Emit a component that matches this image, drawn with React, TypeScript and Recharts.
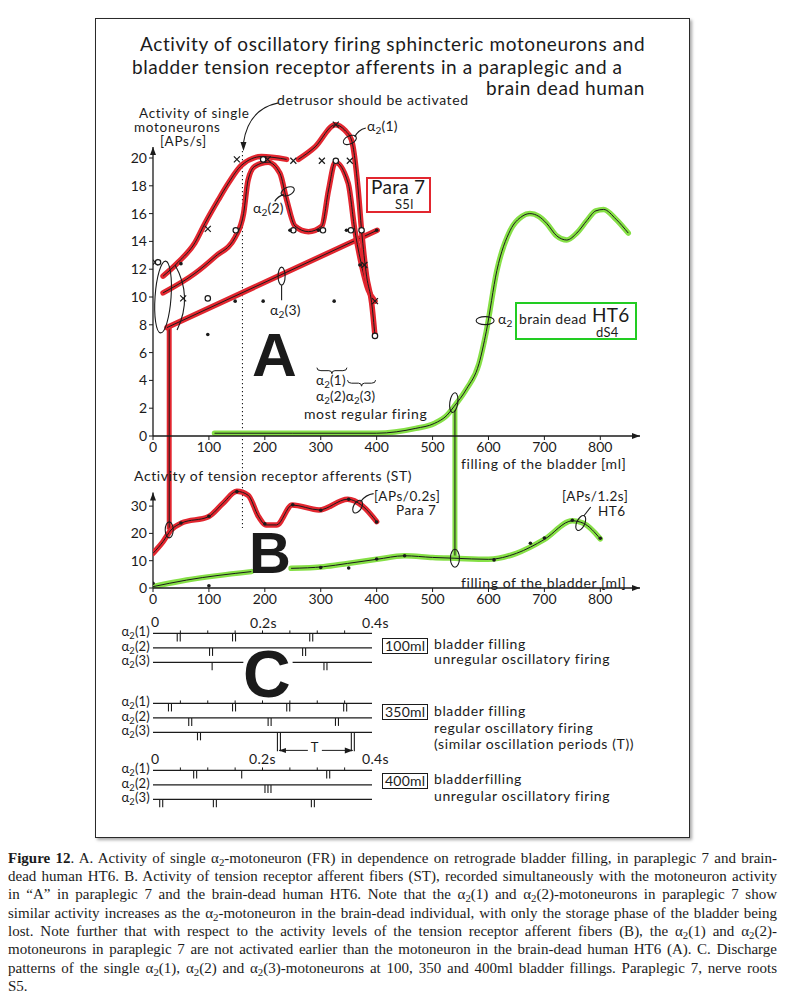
import React from "react";
import {
  ComposedChart,
  ScatterChart,
  Line,
  Scatter,
  XAxis,
  YAxis,
  ReferenceLine,
  ReferenceDot,
} from "recharts";

const FONT = "Lato, 'DejaVu Sans', sans-serif";
const SERIF = "'Liberation Serif', 'Times New Roman', serif";
const BOLD = "'Liberation Sans', Arial, sans-serif";
const INK = "#1b1b1b";
const RED = "#e2262f";
const GREEN = "#86e046";

// filling of the bladder [ml], shared by A and B
const fillTicks = [0, 100, 200, 300, 400, 500, 600, 700, 800];
const FILL_MAX = 871;

// A: activity of single motoneurons [APs/s]
const aTicks = [0, 2, 4, 6, 8, 10, 12, 14, 16, 18, 20];
const alpha1 = [
  { ml: 18, v: 11.5 }, { ml: 45, v: 12.5 }, { ml: 75, v: 13.9 }, { ml: 93, v: 15.3 },
  { ml: 117, v: 17.0 }, { ml: 135, v: 18.2 }, { ml: 159, v: 19.5 }, { ml: 194, v: 20.1 },
  { ml: 239, v: 19.9 }, { ml: 249, v: null },
  { ml: 260, v: 19.9 }, { ml: 290, v: 20.8 }, { ml: 326, v: 22.4 }, { ml: 343, v: 22.0 },
  { ml: 355, v: 21.3 }, { ml: 367, v: 17.7 }, { ml: 373, v: 14.8 }, { ml: 382, v: 11.5 },
  { ml: 391, v: 9.6 }, { ml: 397, v: 7.2 },
];
const alpha2 = [
  { ml: 18, v: 10.3 }, { ml: 75, v: 11.7 }, { ml: 111, v: 12.9 }, { ml: 147, v: 14.3 },
  { ml: 162, v: 16.0 }, { ml: 170, v: 18.4 }, { ml: 182, v: 19.4 }, { ml: 206, v: 19.7 },
  { ml: 227, v: 18.9 }, { ml: 239, v: 17.0 }, { ml: 254, v: 15.1 }, { ml: 278, v: 14.7 },
  { ml: 302, v: 15.1 }, { ml: 314, v: 17.7 }, { ml: 326, v: 19.7 }, { ml: 349, v: 18.2 },
  { ml: 361, v: 14.8 }, { ml: 373, v: 12.3 }, { ml: 385, v: 10.5 }, { ml: 397, v: 9.7 },
];
const alpha3 = [{ ml: 25, v: 7.8 }, { ml: 401, v: 14.8 }];
const ht6A = [
  { ml: 110, v: 0.2 }, { ml: 250, v: 0.2 }, { ml: 400, v: 0.2 }, { ml: 470, v: 0.55 },
  { ml: 503, v: 0.9 }, { ml: 526, v: 1.5 }, { ml: 538, v: 2.1 }, { ml: 561, v: 3.4 },
  { ml: 583, v: 5.2 }, { ml: 596, v: 7.5 }, { ml: 615, v: 11.9 }, { ml: 639, v: 14.8 },
  { ml: 660, v: 15.8 }, { ml: 674, v: 16.0 }, { ml: 690, v: 15.8 }, { ml: 704, v: 15.3 },
  { ml: 722, v: 14.4 }, { ml: 740, v: 14.1 }, { ml: 758, v: 14.6 }, { ml: 776, v: 15.5 },
  { ml: 792, v: 16.2 }, { ml: 806, v: 16.3 }, { ml: 828, v: 15.6 }, { ml: 850, v: 14.6 },
];
const crossPts = [
  { ml: 4, v: 12.5 }, { ml: 54, v: 9.9 }, { ml: 98, v: 14.9 }, { ml: 150, v: 19.9 },
  { ml: 205, v: 19.9 }, { ml: 251, v: 19.8 }, { ml: 302, v: 19.8 }, { ml: 327, v: 22.4 },
  { ml: 352, v: 19.8 }, { ml: 378, v: 12.3 }, { ml: 397, v: 9.7 },
];
const ringPts = [
  { ml: 9, v: 12.5 }, { ml: 98, v: 9.9 }, { ml: 148, v: 14.8 }, { ml: 197, v: 19.9 },
  { ml: 251, v: 14.8 }, { ml: 304, v: 14.8 }, { ml: 327, v: 19.8 }, { ml: 354, v: 14.8 },
  { ml: 373, v: 14.8 }, { ml: 397, v: 7.2 },
];
const dotPts = [
  { ml: 50, v: 12.4 }, { ml: 98, v: 7.3 }, { ml: 147, v: 9.7 }, { ml: 197, v: 9.7 },
  { ml: 245, v: 14.8 }, { ml: 296, v: 14.8 }, { ml: 324, v: 9.7 }, { ml: 346, v: 14.8 },
  { ml: 370, v: 12.3 }, { ml: 400, v: 14.8 },
];

// B: activity of tension receptor afferents (ST)
const bTicks = [0, 10, 20, 30];
const para7B = [
  { ml: 0, v: 12.7 }, { ml: 18, v: 17 }, { ml: 32, v: 21.2 }, { ml: 51, v: 23.8 },
  { ml: 99, v: 26.1 }, { ml: 125, v: 31 }, { ml: 150, v: 35.4 }, { ml: 170, v: 34 },
  { ml: 189, v: 26.1 }, { ml: 202, v: 23.1 }, { ml: 221, v: 23.1 }, { ml: 249, v: 30.4 },
  { ml: 297, v: 28.6 }, { ml: 348, v: 32.5 }, { ml: 375, v: 30 }, { ml: 400, v: 24.3 },
];
const ht6B = [
  { ml: 0, v: 0.5 }, { ml: 60, v: 2.9 }, { ml: 176, v: 6.0 }, { ml: 210, v: null },
  { ml: 247, v: 7.2 }, { ml: 305, v: 7.8 }, { ml: 348, v: 9.0 }, { ml: 400, v: 10.5 },
  { ml: 450, v: 11.8 }, { ml: 500, v: 11.2 }, { ml: 540, v: 10.9 }, { ml: 600, v: 10.5 },
  { ml: 650, v: 12.7 }, { ml: 700, v: 17.8 }, { ml: 750, v: 24.6 }, { ml: 770, v: 23.7 },
  { ml: 800, v: 18 },
];
const para7Dots = [
  { ml: 50, v: 23.8 }, { ml: 100, v: 26.3 }, { ml: 150, v: 35.3 }, { ml: 200, v: 23.5 },
  { ml: 250, v: 30.5 }, { ml: 300, v: 28.5 }, { ml: 350, v: 32.5 }, { ml: 400, v: 24.2 },
];
const ht6Dots = [
  { ml: 0, v: 1.7 }, { ml: 100, v: 0.8 }, { ml: 300, v: 7.5 }, { ml: 350, v: 7.3 },
  { ml: 400, v: 10.6 }, { ml: 450, v: 11.8 }, { ml: 610, v: 10.3 }, { ml: 675, v: 16.4 },
  { ml: 700, v: 18.3 }, { ml: 750, v: 24.8 }, { ml: 800, v: 18.2 },
];

// C: discharge patterns, spike times [s] per motoneuron row, n = spikes in burst
const timeTicks = [0.05, 0.1, 0.15, 0.2, 0.25, 0.3, 0.35];
const spikes100 = [
  { row: 1, t: 0.047, n: 2 }, { row: 1, t: 0.148, n: 2 }, { row: 1, t: 0.289, n: 2 },
  { row: 2, t: 0.106, n: 2 }, { row: 2, t: 0.276, n: 2 },
  { row: 3, t: 0.108, n: 1 }, { row: 3, t: 0.315, n: 2 },
];
const spikes350 = [
  { row: 1, t: 0.031, n: 2 }, { row: 1, t: 0.148, n: 2 }, { row: 1, t: 0.247, n: 2 }, { row: 1, t: 0.351, n: 2 },
  { row: 2, t: 0.068, n: 2 }, { row: 2, t: 0.213, n: 2 }, { row: 2, t: 0.336, n: 2 },
  { row: 3, t: 0.084, n: 2 },
];
const spikes350Period = [{ row: 3, t: 0.23, n: 2 }, { row: 3, t: 0.365, n: 2 }];
const spikes400 = [
  { row: 1, t: 0.077, n: 2 }, { row: 1, t: 0.162, n: 1 }, { row: 1, t: 0.32, n: 2 },
  { row: 2, t: 0.21, n: 3 },
  { row: 3, t: 0.015, n: 2 }, { row: 3, t: 0.113, n: 2 }, { row: 3, t: 0.292, n: 2 },
];

// layout (page px)
const CH_TOP = 100;
const A_ZERO = 436;
const B_ZERO = 588;
const A_PX = 13.9;
const B_PX = 2.73;
const A_MAX = 23;
const PLOT_TOP = A_ZERO - A_MAX * A_PX;
const B_MAX = (B_ZERO - PLOT_TOP) / B_PX;
const A_MIN_IN_B = (A_ZERO - B_ZERO) / A_PX;
const bToA = (v: number) => (A_ZERO - (B_ZERO - v * B_PX)) / A_PX;

const tickFont = { fontSize: 14, fill: INK, fontFamily: FONT };

const crossShape = (p: any) => (
  <path d={`M${p.cx - 3},${p.cy - 3}L${p.cx + 3},${p.cy + 3}M${p.cx - 3},${p.cy + 3}L${p.cx + 3},${p.cy - 3}`} stroke={INK} strokeWidth={1.2} />
);
const ringShape = (p: any) => <circle cx={p.cx} cy={p.cy} r={2.7} fill="#fff" stroke={INK} strokeWidth={1.2} />;
const dotShape = (p: any) => <circle cx={p.cx} cy={p.cy} r={1.8} fill={INK} />;

const oval = (rx: number, ry: number, rot = 0, leader?: (x: number, y: number) => string) => (p: any) => (
  <g>
    <ellipse cx={p.cx} cy={p.cy} rx={rx} ry={ry} transform={`rotate(${rot} ${p.cx} ${p.cy})`} fill="none" stroke={INK} strokeWidth={1.1} />
    {leader && <path d={leader(p.cx, p.cy)} fill="none" stroke={INK} strokeWidth={1.1} />}
  </g>
);
const arrowUp = (p: any) => <path d={`M${p.cx - 3},${p.cy + 8}L${p.cx},${p.cy}L${p.cx + 3},${p.cy + 8}Z`} fill={INK} />;
const arrowRight = (p: any) => <path d={`M${p.cx - 8},${p.cy - 3}L${p.cx},${p.cy}L${p.cx - 8},${p.cy + 3}Z`} fill={INK} />;
const arrowLeft = (p: any) => <path d={`M${p.cx + 7},${p.cy - 2.5}L${p.cx},${p.cy}L${p.cx + 7},${p.cy + 2.5}Z`} fill={INK} />;
const detrusorArrow = (p: any) => (
  <g>
    <path d={`M${p.cx + 36},${p.cy - 44} Q${p.cx + 6},${p.cy - 38} ${p.cx + 1},${p.cy - 4}`} fill="none" stroke={INK} strokeWidth={1.1} />
    <path d={`M${p.cx - 2},${p.cy - 5}L${p.cx + 1},${p.cy + 4}L${p.cx + 4},${p.cy - 5}Z`} fill={INK} />
  </g>
);
const bracket = (w: number) => (p: any) => (
  <path
    d={`M${p.cx - w},${p.cy - 3} Q${p.cx - w},${p.cy} ${p.cx - w + 4},${p.cy} L${p.cx - 3},${p.cy} Q${p.cx},${p.cy} ${p.cx},${p.cy + 3} Q${p.cx},${p.cy} ${p.cx + 3},${p.cy} L${p.cx + w - 4},${p.cy} Q${p.cx + w},${p.cy} ${p.cx + w},${p.cy - 3}`}
    fill="none" stroke={INK} strokeWidth={1}
  />
);

const spikeShape = (len: number) => (p: any) => {
  const n = p.payload.n;
  return (
    <g>
      {Array.from({ length: n }, (_, i) => {
        const x = p.cx + (i - (n - 1) / 2) * 3;
        return <line key={i} x1={x} x2={x} y1={p.cy} y2={p.cy + len} stroke={INK} strokeWidth={1.1} />;
      })}
    </g>
  );
};
const timeTickShape = (p: any) => <line x1={p.cx} x2={p.cx} y1={p.cy - 3} y2={p.cy} stroke={INK} strokeWidth={1} />;

function highlighted(data: any[], color: string, yAxisId?: string, type: any = "monotone") {
  const common = { data, dataKey: "v", type, dot: false, isAnimationActive: false, yAxisId } as any;
  return [
    <Line key="h" {...common} stroke={color} strokeWidth={5.5} strokeLinecap="round" />,
    <Line key="k" {...common} stroke={INK} strokeWidth={1} />,
  ];
}

function PanelA() {
  return (
    <div style={{ position: "absolute", left: 95, top: CH_TOP }}>
      <ComposedChart width={590} height={A_ZERO - CH_TOP + 30} margin={{ top: PLOT_TOP - CH_TOP, right: 45, bottom: 0, left: 0 }}>
        <XAxis dataKey="ml" type="number" domain={[0, FILL_MAX]} ticks={fillTicks} allowDataOverflow height={30}
          tick={tickFont} tickSize={4} axisLine={{ stroke: INK, strokeWidth: 1.3 }} tickLine={{ stroke: INK }} />
        <YAxis dataKey="v" type="number" domain={[0, A_MAX]} ticks={aTicks} allowDataOverflow width={58}
          tick={tickFont} tickSize={4} axisLine={false} tickLine={{ stroke: INK }} />
        <ReferenceLine segment={[{ x: 0, y: 0 }, { x: 0, y: 20.8 }]} stroke={INK} strokeWidth={1.3} ifOverflow="visible" />
        <ReferenceDot x={0} y={20.8} ifOverflow="visible" shape={arrowUp} />
        <ReferenceDot x={FILL_MAX} y={0} ifOverflow="visible" shape={arrowRight} />
        {highlighted(ht6A, GREEN)}
        {highlighted(alpha3, RED, undefined, "linear")}
        {highlighted(alpha2, RED)}
        {highlighted(alpha1, RED)}
        <Scatter data={crossPts} shape={crossShape} isAnimationActive={false} />
        <Scatter data={ringPts} shape={ringShape} isAnimationActive={false} />
        <Scatter data={dotPts} shape={dotShape} isAnimationActive={false} />
        <ReferenceDot x={18} y={10} ifOverflow="visible" shape={oval(8, 36, 4, (x, y) => `M${x + 12},${y - 32} Q${x + 30},${y} ${x + 14},${y + 33}`)} />
        <ReferenceDot x={352} y={21.3} ifOverflow="visible" shape={oval(7, 4, -25, (x, y) => `M${x + 5},${y - 3} Q${x + 8},${y - 10} ${x + 16},${y - 12}`)} />
        <ReferenceDot x={241} y={17.6} ifOverflow="visible" shape={oval(7, 4, -25, (x, y) => `M${x - 4},${y + 3} Q${x - 10},${y + 5} ${x - 13},${y + 10}`)} />
        <ReferenceDot x={230} y={11.5} ifOverflow="visible" shape={oval(3.5, 9, 0, (x, y) => `M${x},${y + 9} L${x},${y + 24}`)} />
        <ReferenceDot x={538} y={2.4} ifOverflow="visible" shape={oval(4, 10, 8)} />
        <ReferenceDot x={594} y={8.3} ifOverflow="visible" shape={oval(9, 4, 0)} />
        <ReferenceDot x={160} y={20.8} ifOverflow="visible" shape={detrusorArrow} />
        <ReferenceDot x={320} y={4.7} ifOverflow="visible" shape={bracket(15)} />
        <ReferenceDot x={373} y={3.8} ifOverflow="visible" shape={bracket(14)} />
      </ComposedChart>
    </div>
  );
}

function PanelB() {
  return (
    <div style={{ position: "absolute", left: 95, top: CH_TOP }}>
      <ComposedChart width={590} height={B_ZERO - CH_TOP + 30} margin={{ top: PLOT_TOP - CH_TOP, right: 45, bottom: 0, left: 0 }}>
        <XAxis dataKey="ml" type="number" domain={[0, FILL_MAX]} ticks={fillTicks} allowDataOverflow height={30}
          tick={tickFont} tickSize={4} axisLine={{ stroke: INK, strokeWidth: 1.3 }} tickLine={{ stroke: INK }} />
        <YAxis yAxisId="b" dataKey="v" type="number" domain={[0, B_MAX]} ticks={bTicks} allowDataOverflow width={58}
          tick={tickFont} tickSize={4} axisLine={false} tickLine={{ stroke: INK }} />
        <YAxis yAxisId="a" orientation="right" width={0} dataKey="v" type="number" domain={[A_MIN_IN_B, A_MAX]} allowDataOverflow hide />
        <ReferenceLine yAxisId="b" segment={[{ x: 0, y: 0 }, { x: 0, y: 35 }]} stroke={INK} strokeWidth={1.3} ifOverflow="visible" />
        <ReferenceDot yAxisId="b" x={0} y={35} ifOverflow="visible" shape={arrowUp} />
        <ReferenceDot yAxisId="b" x={FILL_MAX} y={0} ifOverflow="visible" shape={arrowRight} />
        <ReferenceLine yAxisId="a" segment={[{ x: 160, y: 20.5 }, { x: 160, y: bToA(22) }]} stroke={INK} strokeWidth={1.1} strokeDasharray="1.2 2.8" ifOverflow="visible" />
        <ReferenceLine yAxisId="a" segment={[{ x: 29, y: 7.8 }, { x: 29, y: bToA(21.4) }]} stroke={RED} strokeWidth={5} ifOverflow="visible" />
        <ReferenceLine yAxisId="a" segment={[{ x: 29, y: 7.8 }, { x: 29, y: bToA(21.4) }]} stroke={INK} strokeWidth={1} ifOverflow="visible" />
        <ReferenceLine yAxisId="a" segment={[{ x: 540, y: 2.1 }, { x: 540, y: bToA(10.9) }]} stroke={GREEN} strokeWidth={5} ifOverflow="visible" />
        <ReferenceLine yAxisId="a" segment={[{ x: 540, y: 2.1 }, { x: 540, y: bToA(10.9) }]} stroke={INK} strokeWidth={1} ifOverflow="visible" />
        {highlighted(para7B, RED, "b")}
        {highlighted(ht6B, GREEN, "b")}
        <Scatter yAxisId="b" data={para7Dots} shape={dotShape} isAnimationActive={false} />
        <Scatter yAxisId="b" data={ht6Dots} shape={dotShape} isAnimationActive={false} />
        <ReferenceDot yAxisId="b" x={29} y={21.3} ifOverflow="visible" shape={oval(4, 8, 0)} />
        <ReferenceDot yAxisId="b" x={540} y={10.9} ifOverflow="visible" shape={oval(4.5, 9, 0)} />
        <ReferenceDot yAxisId="b" x={366} y={29.8} ifOverflow="visible" shape={oval(4, 7, 30, (x, y) => `M${x + 3},${y - 5} Q${x + 8},${y - 12} ${x + 16},${y - 13}`)} />
        <ReferenceDot yAxisId="b" x={765} y={23.8} ifOverflow="visible" shape={oval(4, 8, 25, (x, y) => `M${x + 3},${y - 7} L${x + 10},${y - 16}`)} />
      </ComposedChart>
    </div>
  );
}

function SpikeBlock({ top, spikes, period, splitRow3 }: { top: number; spikes: any[]; period?: any[]; splitRow3?: boolean }) {
  const seg = (row: number, a: number, b: number) => (
    <ReferenceLine key={`${row}-${a}`} segment={[{ x: a, y: row }, { x: b, y: row }]} stroke={INK} strokeWidth={1.2} ifOverflow="visible" />
  );
  return (
    <div style={{ position: "absolute", left: 95, top }}>
      <ScatterChart width={590} height={65} margin={{ top: 0, right: 313, bottom: 0, left: 58 }}>
        <XAxis dataKey="t" type="number" domain={[0, 0.4]} hide />
        <YAxis dataKey="row" type="number" domain={[0, 4.5]} reversed hide />
        {seg(1, 0, 0.4)}
        {seg(2, 0, 0.4)}
        {splitRow3 ? [seg(3, 0, 0.165), seg(3, 0.255, 0.4)] : seg(3, 0, 0.4)}
        <Scatter data={timeTicks.map((t) => ({ t, row: 1 }))} shape={timeTickShape} isAnimationActive={false} />
        <Scatter data={spikes} shape={spikeShape(8)} isAnimationActive={false} />
        {period && <Scatter data={period} shape={spikeShape(19)} isAnimationActive={false} />}
        {period && (
          <ReferenceLine segment={[{ x: period[0].t, y: 4.25 }, { x: period[1].t, y: 4.25 }]} stroke={INK} strokeWidth={1} ifOverflow="visible" />
        )}
        {period && <ReferenceDot x={period[0].t} y={4.25} ifOverflow="visible" shape={arrowLeft} />}
        {period && <ReferenceDot x={period[1].t} y={4.25} ifOverflow="visible" shape={arrowRight} />}
      </ScatterChart>
    </div>
  );
}

function Txt({ x, y, size = 14, children, weight = 400, align = "left", family = FONT, bg, spacing = 0.6, style }: any) {
  const s: React.CSSProperties = {
    position: "absolute", top: y - size * 0.58, fontSize: size, lineHeight: `${size}px`,
    fontFamily: family, fontWeight: weight, color: INK, whiteSpace: "nowrap", background: bg,
    letterSpacing: spacing, ...style,
  };
  if (align === "right") s.right = 785 - x;
  else if (align === "center") { s.left = x; s.transform = "translateX(-50%)"; }
  else s.left = x;
  return <div style={s}>{children}</div>;
}

const A2 = ({ n }: { n?: string }) => (
  <>
    α<sub style={{ fontSize: "0.72em", verticalAlign: "-0.28em", lineHeight: 0 }}>2</sub>
    {n ? `(${n})` : null}
  </>
);

const captionLines: React.ReactNode[] = [
  <><b>Figure 12</b>. A. Activity of single <A2 />-motoneuron (FR) in dependence on retrograde bladder filling, in paraplegic 7 and brain-</>,
  <>dead human HT6. B. Activity of tension receptor afferent fibers (ST), recorded simultaneously with the motoneuron activity</>,
  <>in “A” in paraplegic 7 and the brain-dead human HT6. Note that the <A2 n="1" /> and <A2 n="2" />-motoneurons in paraplegic 7 show</>,
  <>similar activity increases as the <A2 />-motoneuron in the brain-dead individual, with only the storage phase of the bladder being</>,
  <>lost. Note further that with respect to the activity levels of the tension receptor afferent fibers (B), the <A2 n="1" /> and <A2 n="2" />-</>,
  <>motoneurons in paraplegic 7 are not activated earlier than the motoneuron in the brain-dead human HT6 (A). C. Discharge</>,
  <>patterns of the single <A2 n="1" />, <A2 n="2" /> and <A2 n="3" />-motoneurons at 100, 350 and 400ml bladder fillings. Paraplegic 7, nerve roots</>,
  <>S5.</>,
];

const rowLabels = (y1: number) => [1, 2, 3].map((r) => (
  <Txt key={`${y1}-${r}`} x={150} y={y1 + (r - 1) * 14.44} size={13} spacing={0.2} align="right"><A2 n={String(r)} /></Txt>
));

const boxStyle = { border: `1.2px solid ${INK}`, padding: "0 2px", lineHeight: "14px", display: "inline-block" };

export default function App() {
  return (
    <div style={{ position: "absolute", left: 0, top: 0, width: 785, height: 995, background: "#fff", overflow: "hidden", fontFamily: FONT, color: INK }}>
      <div style={{ position: "absolute", left: 95, top: 18, width: 593, height: 818, border: "1.5px solid #2a2a2a", boxShadow: "2px 2px 3px rgba(0,0,0,0.35)" }} />

      <PanelB />
      <PanelA />
      <SpikeBlock top={633 - 14.44} spikes={spikes100} splitRow3 />
      <SpikeBlock top={703 - 14.44} spikes={spikes350} period={spikes350Period} />
      <SpikeBlock top={770 - 14.44} spikes={spikes400} />

      {/* title */}
      <Txt x={140} y={45} size={19}>Activity of oscillatory firing sphincteric motoneurons and</Txt>
      <Txt x={132} y={68} size={19}>bladder tension receptor afferents in a paraplegic and a</Txt>
      <Txt x={645} y={89} size={19} align="right">brain dead human</Txt>

      {/* panel A */}
      <Txt x={277} y={101}>detrusor should be activated</Txt>
      <Txt x={139} y={115} size={13.5} spacing={0.7}>Activity of single</Txt>
      <Txt x={134} y={129} size={13.5} spacing={0.7}>motoneurons</Txt>
      <Txt x={160} y={143} size={13.5} spacing={0.7}>[APs/s]</Txt>
      <Txt x={367} y={127} spacing={0.2}><A2 n="1" /></Txt>
      <Txt x={253} y={209} spacing={0.2}><A2 n="2" /></Txt>
      <Txt x={270} y={311} spacing={0.2}><A2 n="3" /></Txt>
      <div style={{ position: "absolute", left: 366, top: 177, width: 61, height: 32, border: `2.5px solid ${RED}` }} />
      <Txt x={371} y={188} size={19} spacing={0.3}>Para 7</Txt>
      <Txt x={395} y={206} size={13} spacing={0.3}>S5l</Txt>
      <div style={{ position: "absolute", left: 515, top: 302, width: 118, height: 34, border: `2.5px solid #22cc22` }} />
      <Txt x={498} y={320} spacing={0.2}><A2 /></Txt>
      <Txt x={519} y={320} spacing={0.3}>brain dead</Txt>
      <Txt x={592} y={316} size={19} spacing={0.3}>HT6</Txt>
      <Txt x={596} y={334} size={13} spacing={0.3}>dS4</Txt>
      <Txt x={252} y={360} size={62} weight={700} spacing={0} family={BOLD}>A</Txt>
      <Txt x={316} y={382} size={13.5} spacing={0.2}><A2 n="1" /></Txt>
      <Txt x={316} y={398} size={13.5} spacing={0.2}><A2 n="2" /><A2 n="3" /></Txt>
      <Txt x={304} y={415}>most regular firing</Txt>
      <Txt x={461} y={465}>filling of the bladder [ml]</Txt>

      {/* panel B */}
      <Txt x={134} y={477}>Activity of tension receptor afferents (ST)</Txt>
      <Txt x={374} y={497.5} size={13.5} spacing={0.5}>[APs/0.2s]</Txt>
      <Txt x={396} y={512} size={13.5} spacing={0.5}>Para 7</Txt>
      <Txt x={562} y={497.5} size={13.5} spacing={0.5}>[APs/1.2s]</Txt>
      <Txt x={598} y={513} size={13.5} spacing={0.5}>HT6</Txt>
      <Txt x={249} y={558} size={58} weight={700} spacing={0} family={BOLD}>B</Txt>
      <Txt x={461} y={584}>filling of the bladder [ml]</Txt>

      {/* panel C */}
      <Txt x={243} y={679} size={66} weight={700} spacing={0} family={BOLD}>C</Txt>
      {rowLabels(633)}
      {rowLabels(703)}
      {rowLabels(770)}
      <Txt x={151} y={623} spacing={0.3}>0</Txt>
      <Txt x={250} y={624} spacing={0.3}>0.2s</Txt>
      <Txt x={362} y={624} spacing={0.3}>0.4s</Txt>
      <Txt x={151} y={760} spacing={0.3}>0</Txt>
      <Txt x={249} y={760} spacing={0.3}>0.2s</Txt>
      <Txt x={362} y={760} spacing={0.3}>0.4s</Txt>
      <Txt x={315} y={749} size={13} align="center" bg="#fff" style={{ padding: "0 3px" }}>T</Txt>

      <Txt x={382} y={646} spacing={0.2}><span style={boxStyle}>100ml</span></Txt>
      <Txt x={434} y={645}>bladder filling</Txt>
      <Txt x={434} y={660}>unregular oscillatory firing</Txt>
      <Txt x={382} y={712} spacing={0.2}><span style={boxStyle}>350ml</span></Txt>
      <Txt x={434} y={712}>bladder filling</Txt>
      <Txt x={434} y={729}>regular oscillatory firing</Txt>
      <Txt x={434} y={745}>(similar oscillation periods (T))</Txt>
      <Txt x={382} y={781} spacing={0.2}><span style={boxStyle}>400ml</span></Txt>
      <Txt x={434} y={780}>bladderfilling</Txt>
      <Txt x={434} y={797}>unregular oscillatory firing</Txt>

      {/* caption */}
      {captionLines.map((line, i) => (
        <div
          key={i}
          style={{
            position: "absolute", left: 8, top: 848.5 + i * 18.35, width: 769, fontFamily: SERIF, fontSize: 15,
            lineHeight: "18px", whiteSpace: "nowrap", textAlign: "justify",
            textAlignLast: i < captionLines.length - 1 ? "justify" : "left",
          }}
        >
          {line}
        </div>
      ))}
    </div>
  );
}
